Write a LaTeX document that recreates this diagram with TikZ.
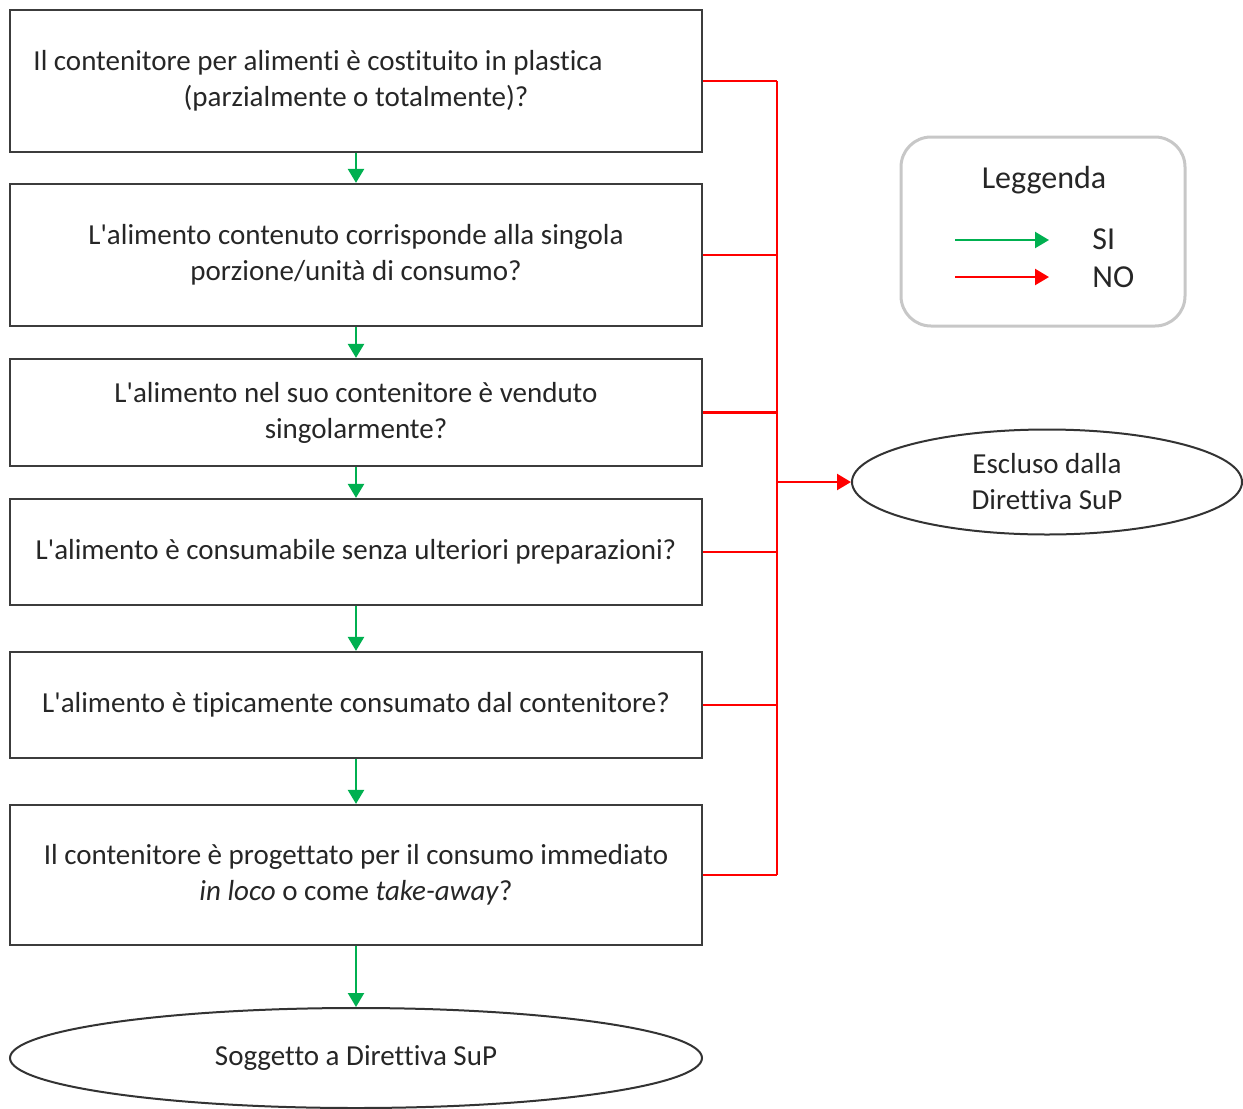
\documentclass[tikz,border=0pt]{standalone}
\usepackage{fontspec}
\setmainfont{Carlito}[Ligatures={TeXOff,NoCommon}]
\usetikzlibrary{arrows.meta,positioning,shapes.geometric}
\definecolor{siverde}{RGB}{0,176,80}
\definecolor{nored}{RGB}{255,0,0}
\definecolor{bordo}{RGB}{60,60,60}
\begin{document}
\begin{tikzpicture}[
    x=0.5pt, y=-0.5pt,
    every node/.style={font=\fontsize{14.5}{18}\selectfont, text=black!85},
    domanda/.style={draw=bordo, line width=1.1pt, rectangle, align=center,
      minimum width=346pt, inner sep=0pt},
    esito/.style={draw=black!80, line width=1pt, ellipse, align=center, inner sep=0pt},
    legtext/.style={font=\fontsize{16}{19}\selectfont},
    si/.style={draw=siverde, line width=1.2pt, -{Triangle[length=7pt,width=8pt]}},
    no/.style={draw=nored, line width=1.2pt},
    noarrow/.style={no, -{Triangle[length=7pt,width=8pt]}}
  ]
  \useasboundingbox (0,0) rectangle (1243,1109);
  % domande
  \node[domanda, minimum height=71pt] (q1) at (356,81)
    {Il contenitore per alimenti è costituito in plastica\hspace*{38pt}\\(parzialmente o totalmente)?};
  \node[domanda, minimum height=71pt] (q2) at (356,255)
    {L'alimento contenuto corrisponde alla singola\\porzione/unità di consumo?};
  \node[domanda, minimum height=53.5pt] (q3) at (356,412.5)
    {L'alimento nel suo contenitore è venduto\\singolarmente?};
  \node[domanda, minimum height=53pt] (q4) at (356,552)
    {L'alimento è consumabile senza ulteriori preparazioni?};
  \node[domanda, minimum height=53pt] (q5) at (356,705)
    {L'alimento è tipicamente consumato dal contenitore?};
  \node[domanda, minimum height=70pt] (q6) at (356,875)
    {Il contenitore è progettato per il consumo immediato\\\textit{in loco} o come \textit{take-away}?};
  % esiti
  \node[esito, minimum width=346pt, minimum height=50pt] (sup) at (356,1058)
    {Soggetto a Direttiva SuP};
  \node[esito, minimum width=195pt, minimum height=52.5pt] (escl) at (1047,482)
    {Escluso dalla\\Direttiva SuP};
  % frecce SI
  \foreach \a/\b in {q1/q2,q2/q3,q3/q4,q4/q5,q5/q6,q6/sup}
    \draw[si] (\a.south) -- (\b.north);
  % frecce NO
  \coordinate (bus1) at (777,81);
  \coordinate (bus6) at (777,875);
  \coordinate (busm) at (777,482);
  \foreach \q in {q1,q2,q3,q4,q5,q6}
    \draw[no] (\q.east) -- (\q.east -| bus1);
  \draw[no] (bus1) -- (bus6);
  \draw[noarrow] (busm) -- (escl.west);
  % legenda
  \node[draw=black!22, line width=1.5pt, rounded corners=15pt,
    minimum width=142pt, minimum height=94.5pt] (legenda) at (1043,231.5) {};
  \node[legtext] (titolo) at (1044,180) {Leggenda};
  \coordinate (s0) at (955,240);
  \coordinate (s1) at (1049,240);
  \coordinate (n0) at (955,277);
  \coordinate (n1) at (1049,277);
  \draw[si] (s0) -- (s1);
  \draw[noarrow] (n0) -- (n1);
  \node[legtext, anchor=west, inner sep=0pt] (lsi) at (1092,239) {SI};
  \node[legtext, anchor=west, inner sep=0pt] (lno) at (1092,277) {NO};
\end{tikzpicture}
\end{document}
